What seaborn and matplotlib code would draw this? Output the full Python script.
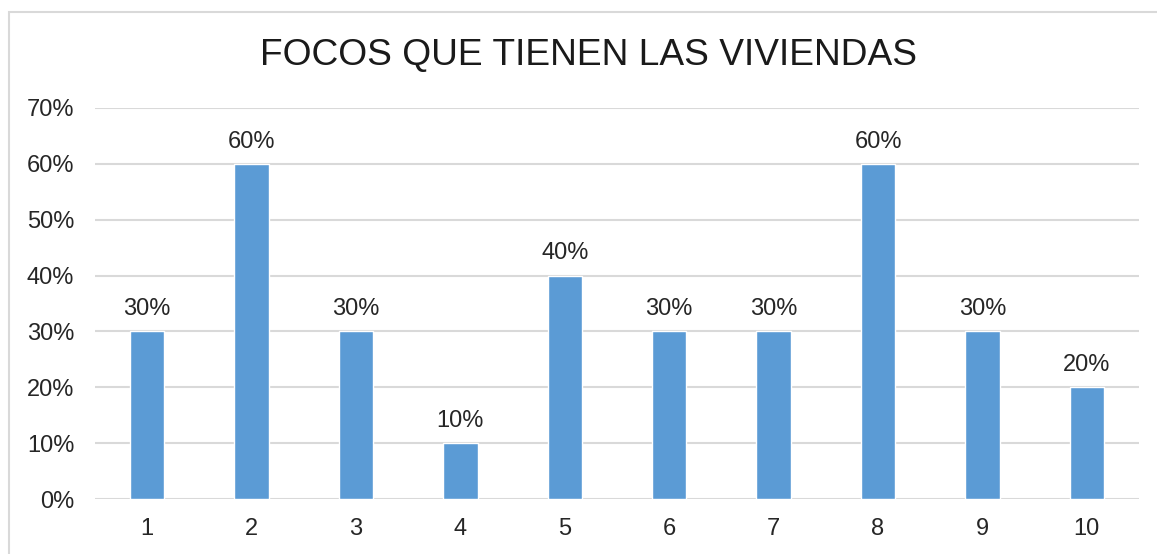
import matplotlib
matplotlib.use('Agg')
import matplotlib.pyplot as plt
import seaborn as sns
import pandas as pd
from matplotlib.patches import Rectangle
from matplotlib.ticker import PercentFormatter

# Data
focos = ['1', '2', '3', '4', '5', '6', '7', '8', '9', '10']
porcentaje = [30, 60, 30, 10, 40, 30, 30, 60, 30, 20]
y_ticks = [0, 10, 20, 30, 40, 50, 60, 70]
titulo = 'FOCOS QUE TIENEN LAS VIVIENDAS'

df = pd.DataFrame({'focos': focos, 'porcentaje': porcentaje})

sns.set_style('white')
plt.rcParams['font.family'] = ['Liberation Sans', 'DejaVu Sans']

fig = plt.figure(figsize=(11.57, 5.54), dpi=100)
ax = fig.add_axes([95 / 1157, 1 - 499 / 554, (1139 - 95) / 1157, (499 - 108) / 554])

sns.barplot(data=df, x='focos', y='porcentaje', color='#5B9BD5', width=0.33,
            saturation=1, ax=ax, zorder=3)

ax.set_ylim(0, 70)
ax.set_xlim(-0.5, 9.5)
ax.set_yticks(y_ticks)
ax.yaxis.set_major_formatter(PercentFormatter(decimals=0))
ax.grid(axis='y', color='#D9D9D9', linewidth=1.5, zorder=0)
ax.set_axisbelow(True)
for s in ax.spines.values():
    s.set_visible(False)
ax.set_xlabel('')
ax.set_ylabel('')
ax.tick_params(axis='both', length=0, labelsize=17, labelcolor='#262626')
ax.tick_params(axis='y', pad=15)
ax.tick_params(axis='x', pad=14)

for c in ax.containers:
    ax.bar_label(c, labels=[f'{v}%' for v in porcentaje], padding=8,
                 fontsize=17, color='#262626')

fig.text(588 / 1157, 1 - 56 / 554, titulo, ha='center', va='center',
         fontsize=26.7, color='#1a1a1a')

# chart border
fig.patches.append(Rectangle((9 / 1157, -0.1), 1.2, 1 - 12 / 554 + 0.1,
                             transform=fig.transFigure, fill=False,
                             edgecolor='#D9D9D9', linewidth=1.5))

fig.savefig('out.png', dpi=100)
